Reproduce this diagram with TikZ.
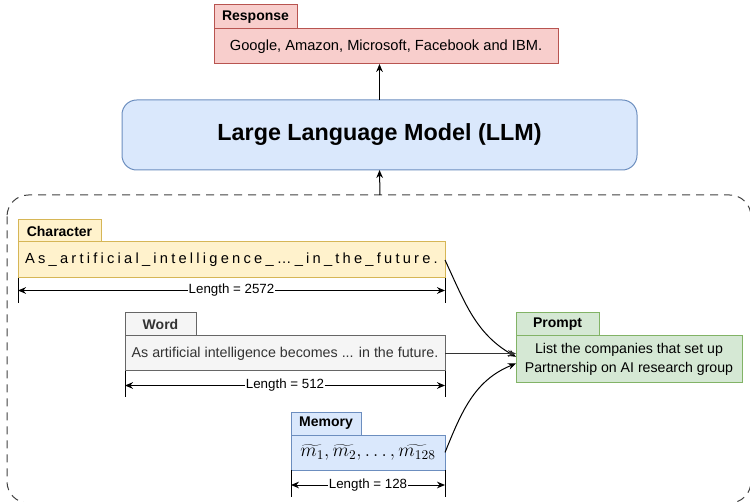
\documentclass[tikz,border=0pt]{standalone}
\usepackage{fontspec}
\setmainfont{Liberation Sans}
\usetikzlibrary{arrows.meta}
\definecolor{yfill}{HTML}{FFF2CC}\definecolor{ydraw}{HTML}{D6B656}
\definecolor{rfill}{HTML}{F8CECC}\definecolor{rdraw}{HTML}{B85450}
\definecolor{bfill}{HTML}{DAE8FC}\definecolor{bdraw}{HTML}{6C8EBF}
\definecolor{gfill}{HTML}{D5E8D4}\definecolor{gdraw}{HTML}{82B366}
\definecolor{wfill}{HTML}{F5F5F5}\definecolor{wdraw}{HTML}{666666}
\definecolor{wtext}{HTML}{333333}
\begin{document}
\begin{tikzpicture}[x=0.75pt,y=-0.75pt,
  box/.style={anchor=north west,inner sep=0pt,outer sep=0pt,line width=0.75pt,font=\fontsize{11}{13}\selectfont,align=center},
  tab/.style={box,font=\fontsize{10.5}{12}\selectfont\bfseries},
  yel/.style={fill=yfill,draw=ydraw},
  red/.style={fill=rfill,draw=rdraw},
  blu/.style={fill=bfill,draw=bdraw},
  grn/.style={fill=gfill,draw=gdraw},
  gry/.style={fill=wfill,draw=wdraw,text=wtext},
  arr/.style={-{Stealth[length=6pt,width=5pt]},line width=0.75pt},
  dim/.style={{Stealth[length=6pt,width=5pt]}-{Stealth[length=6pt,width=5pt]},line width=0.75pt},
  tick/.style={line width=0.75pt},
  lab/.style={fill=white,inner sep=0.5pt,font=\fontsize{10}{12}\selectfont}]
\useasboundingbox (0,0) rectangle (750,502);
% dashed container
\draw[dashed,dash pattern=on 6pt off 4.5pt,line width=0.75pt,draw=black!75,rounded corners=16pt] (7,195) rectangle (751,503);
\coordinate (ctop) at (380,195);
% response
\node[tab,red,minimum width=62.25pt,minimum height=18pt] (rtab) at (214,5) {Response};
\node[box,red,minimum width=258pt,minimum height=26.25pt] (resp) at (214,29) {Google, Amazon, Microsoft, Facebook and IBM.};
% LLM
\node[box,blu,rounded corners=11pt,minimum width=386.25pt,minimum height=52.5pt,font=\fontsize{17.5}{20}\selectfont\bfseries] (llm) at (122,100) {Large Language Model (LLM)};
\draw[arr] (llm.north) -- (llm.north |- resp.south);
\draw[arr] (ctop) -- (llm.south);
% character
\node[tab,yel,minimum width=62.25pt,minimum height=16.5pt] (ctab) at (18,220) {Character};
\node[box,yel,minimum width=320.25pt,minimum height=27pt] (char) at (18,242) {\addfontfeature{LetterSpace=22}As\_artificial\_intelligence\_…\_in\_the\_future.};
\draw[tick] (18,278) -- (18,303); \draw[tick] (445,278) -- (445,303);
\draw[dim] (18,290.5) -- node[lab] {Length = 2572} (445,290.5);
% word
\node[tab,gry,minimum width=53.25pt,minimum height=17.25pt] (wtab) at (125,313) {Word};
\node[box,gry,minimum width=240pt,minimum height=26.25pt,font=\fontsize{10.7}{12}\selectfont] (word) at (125,336) {As artificial intelligence becomes ... in the future.};
\draw[tick] (125,371) -- (125,397); \draw[tick] (445,371) -- (445,397);
\draw[dim] (125,385.5) -- node[lab] {Length = 512} (445,385.5);
% memory
\node[tab,blu,minimum width=52.5pt,minimum height=17.25pt] (mtab) at (291,412) {Memory};
\node[box,blu,minimum width=115.5pt,minimum height=26.25pt,font=\fontsize{14}{16}\selectfont] (mem) at (291,435) {$\widetilde{m_1},\widetilde{m_2},\ldots,\widetilde{m_{128}}$};
\draw[tick] (291,470) -- (291,497); \draw[tick] (445,470) -- (445,497);
\draw[dim] (291,485) -- node[lab] {Length = 128} (445,485);
% prompt
\node[tab,grn,minimum width=62.25pt,minimum height=17.25pt] (ptab) at (516,313) {Prompt};
\node[box,grn,minimum width=169.5pt,minimum height=35.25pt,font=\fontsize{10.6}{14.5}\selectfont] (prompt) at (516,336) {List the companies that set up\\Partnership on AI research group};
% connectors
\draw[arr] (char.east) to[out=-65,in=150] ([yshift=2pt]prompt.west);
\draw[arr,draw=black!80] (word.east) -- (word.east -| prompt.west);
\draw[arr] (mem.east) to[out=68,in=-158] ([yshift=-3pt]prompt.west);
\end{tikzpicture}
\end{document}
